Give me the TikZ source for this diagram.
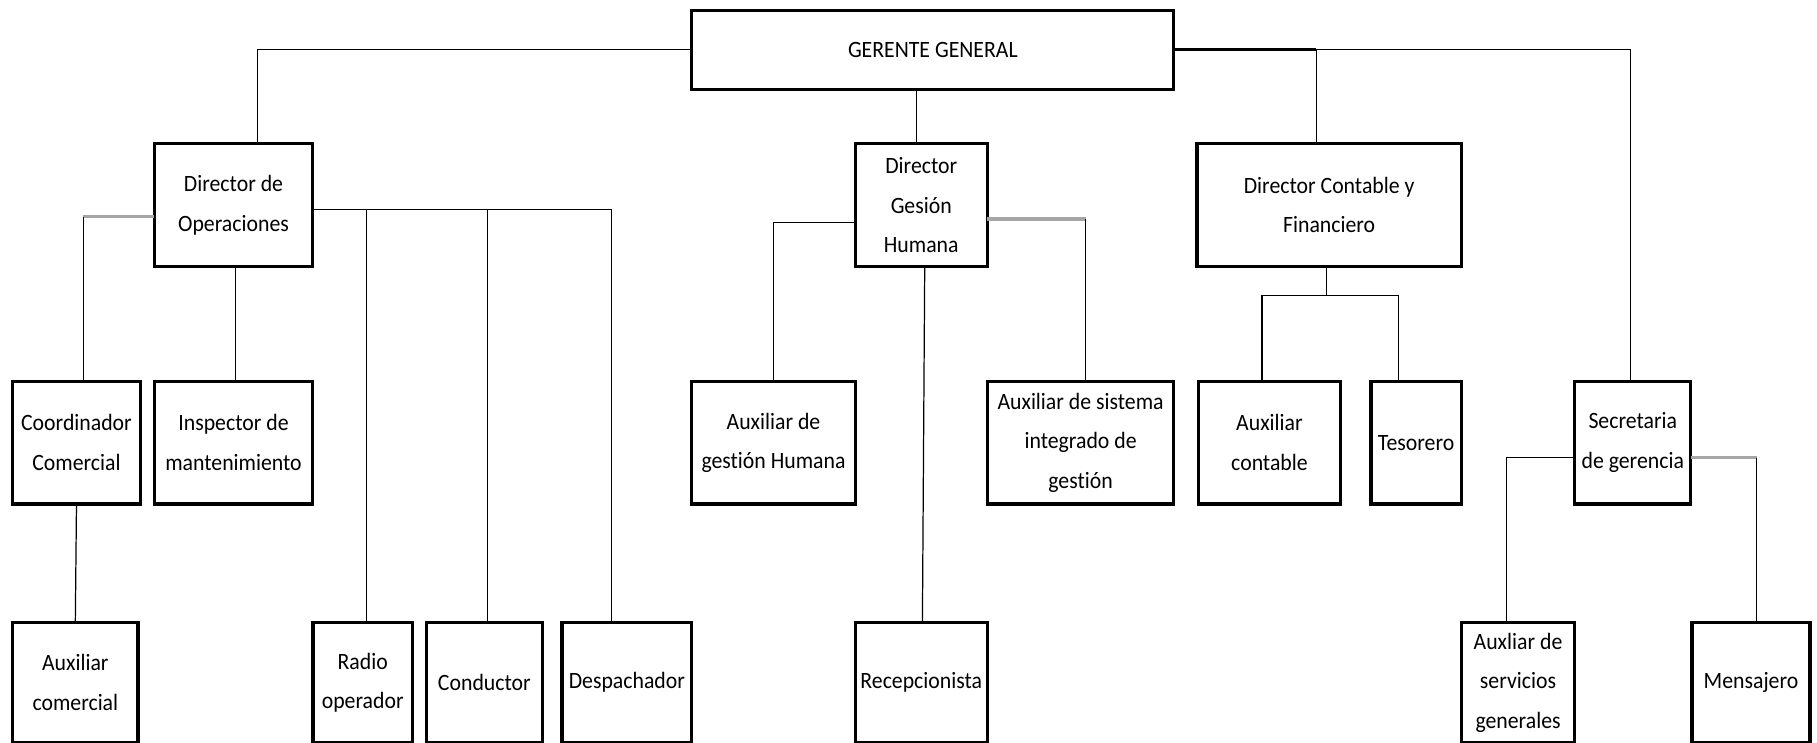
\documentclass[tikz,border=0pt]{standalone}
\usepackage{fontspec}
\setmainfont[FakeStretch=0.93, RawFeature={-liga}]{Carlito}
\usetikzlibrary{positioning}
\newcommand{\orgfont}{\fontsize{11.5}{19.4}\selectfont}

\begin{document}
\begin{tikzpicture}[
        x=0.02cm, y=-0.02cm,
        box/.style={draw, line width=1.6pt, inner sep=0pt, outer sep=0pt,
          minimum height=2.12cm, align=center, font=\orgfont},
        lowbox/.style={box, minimum height=2.08cm},
        link/.style={draw, line width=0.6pt},
        greylink/.style={draw, line width=1.6pt, gray!70}
      ]
      \useasboundingbox (0,0) rectangle (1568,641);

      % Nodes
      \node[box, minimum width=8.32cm, minimum height=1.36cm] (gg) at (805,43) {GERENTE GENERAL};
      \node[box, minimum width=2.74cm] (dop) at (201.5,177) {Director de\\Operaciones};
      \node[box, minimum width=2.28cm] (dgh) at (795,177) {Director\\Gesión\\Humana};
      \node[box, minimum width=4.56cm] (dcf) at (1147,177) {Director Contable y\\Financiero};

      \node[box, minimum width=2.2cm] (coord) at (66,382) {Coordinador\\Comercial};
      \node[box, minimum width=2.74cm] (insp) at (201.5,382) {Inspector de\\mantenimiento};
      \node[box, minimum width=2.82cm] (agh) at (667.5,382) {Auxiliar de\\gestión Humana};
      \node[box, minimum width=3.22cm] (asig) at (932.5,382) {Auxiliar de sistema\\integrado de\\gestión};
      \node[box, minimum width=2.46cm] (acont) at (1095.5,382) {Auxiliar\\contable};
      \node[box, minimum width=1.56cm] (tes) at (1222,382) {Tesorero};
      \node[box, minimum width=2.0cm] (sec) at (1409,382) {Secretaria\\de gerencia};

      \node[lowbox, minimum width=2.16cm] (acom) at (65,589) {Auxiliar\\comercial};
      \node[lowbox, minimum width=1.72cm] (radio) at (313,589) {Radio\\operador};
      \node[lowbox, minimum width=2.0cm] (cond) at (418,589) {Conductor};
      \node[lowbox, minimum width=2.24cm] (desp) at (541,589) {Despachador};
      \node[lowbox, minimum width=2.28cm] (recep) at (795,589) {Recepcionista};
      \node[lowbox, minimum width=1.96cm] (aserv) at (1310,589) {Auxliar de\\servicios\\generales};
      \node[lowbox, minimum width=2.04cm] (mens) at (1511,589) {Mensajero};

      % Ports on the boxes
      \coordinate (opsR) at ([yshift=-0.08cm]dop.east);
      \coordinate (opsL) at ([yshift=-0.2cm]dop.west);
      \coordinate (ghL) at ([yshift=-0.3cm]dgh.west);
      \coordinate (ghR) at ([yshift=-0.24cm]dgh.east);
      \coordinate (cfbus) at ([xshift=-0.04cm, yshift=-0.5cm]dcf.south);
      \coordinate (secL) at ([yshift=-0.26cm]sec.west);
      \coordinate (secR) at ([yshift=-0.26cm]sec.east);
      \coordinate (ghN) at ([xshift=-0.08cm]dgh.north);
      \coordinate (cfN) at ([xshift=-0.22cm]dcf.north);
      \coordinate (coordN) at ([xshift=0.12cm]coord.north);
      \coordinate (asigN) at ([xshift=0.09cm]asig.north);
      \coordinate (mensN) at ([xshift=0.1cm]mens.north);

      % Edges from the manager
      \draw[link] (gg.west) -| ([xshift=0.41cm]dop.north);
      \draw[link] (ghN) -- (ghN |- gg.south);
      \draw[link] (gg.east) -| ([xshift=-0.04cm]sec.north);
      \draw[link, line width=1.6pt] (gg.east) -- (cfN |- gg.east);
      \draw[link] (cfN) -- (cfN |- gg.east);

      % Edges under Operaciones
      \draw[link] (opsR) -| ([xshift=-0.26cm]desp.north);
      \draw[link] (opsR) -| ([xshift=0.06cm]radio.north);
      \draw[link] (opsR) -| ([xshift=0.06cm]cond.north);
      \draw[greylink] (opsL) -- (opsL -| coordN);
      \draw[link] (opsL -| coordN) -- (coordN);
      \draw[link] ([xshift=0.03cm]dop.south) -- ([xshift=0.03cm]insp.north);
      \draw[link] (coord.south) -- (acom.north);

      % Edges under Gestion Humana
      \draw[link] (ghL) -| (agh.north);
      \draw[greylink] (ghR) -- (ghR -| asigN);
      \draw[link] (ghR -| asigN) -- (asigN);
      \draw[link] ([xshift=0.06cm]dgh.south) -- ([xshift=0.02cm]recep.north);

      % Edges under Contable
      \draw[link] ([xshift=-0.04cm]dcf.south) -- (cfbus);
      \draw[link] (cfbus) -| ([xshift=-0.13cm]acont.north);
      \draw[link] (cfbus) -| ([xshift=-0.3cm]tes.north);

      % Edges under Secretaria
      \draw[link] (secL) -| ([xshift=-0.2cm]aserv.north);
      \draw[greylink] (secR) -- (secR -| mensN);
      \draw[link] (secR -| mensN) -- (mensN);
    \end{tikzpicture}
\end{document}
